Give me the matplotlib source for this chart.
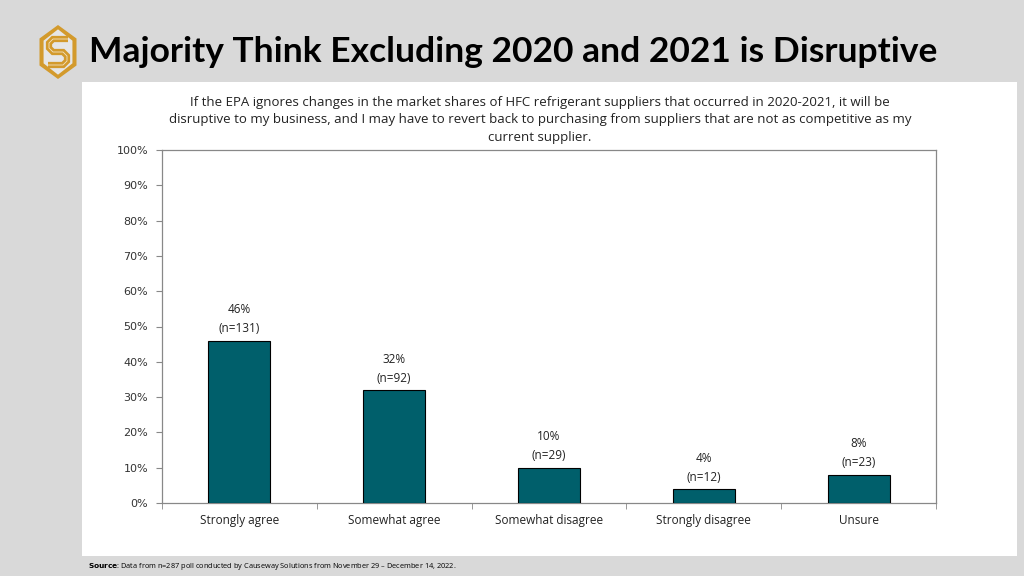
import matplotlib.pyplot as plt
from matplotlib.patches import Rectangle, Polygon
import numpy as np

categories = ['Strongly agree', 'Somewhat agree', 'Somewhat disagree', 'Strongly disagree', 'Unsure']
shares = [46, 32, 10, 4, 8]
counts = [131, 92, 29, 12, 23]
yticks = [0, 10, 20, 30, 40, 50, 60, 70, 80, 90, 100]

title = 'Majority Think Excluding 2020 and 2021 is Disruptive'
question = ('If the EPA ignores changes in the market shares of HFC refrigerant suppliers that occurred in 2020-2021, it will be\n'
            'disruptive to my business, and I may have to revert back to purchasing from suppliers that are not as competitive as my\n'
            'current supplier.')

W, H = 1024, 576
fig = plt.figure(figsize=(W / 100, H / 100), dpi=100)
fig.patch.set_facecolor('#d9d9d9')

# white panel behind the chart
bg = fig.add_axes([0, 0, 1, 1], zorder=-5)
bg.set_xlim(0, W)
bg.set_ylim(H, 0)
bg.axis('off')
bg.add_patch(Rectangle((82, 82), 1017 - 82, 556 - 82, facecolor='white', edgecolor='none'))

# logo (pixel coords)
gold = '#d39a2c'
cx, cy, hw, hh = 58, 52, 18.5, 27
outer = [(cx, cy - hh), (cx + hw, cy - hh / 2), (cx + hw, cy + hh / 2),
         (cx, cy + hh), (cx - hw, cy + hh / 2), (cx - hw, cy - hh / 2)]
inner = [(cx + (px - cx) * 0.78, cy + (py - cy) * 0.84) for px, py in outer]
bg.add_patch(Polygon(outer, closed=True, facecolor=gold, edgecolor='none'))
bg.add_patch(Polygon(inner, closed=True, facecolor='#e6e6e6', edgecolor='none'))
s_path = [(68, 39), (53, 39), (49, 43), (49, 48), (53, 52), (63, 52),
          (67, 56), (67, 61), (63, 65), (48, 65)]
sx, sy = zip(*s_path)
bg.plot(sx, sy, color=gold, lw=4.5, solid_joinstyle='miter', solid_capstyle='butt')
bg.plot(sx, sy, color='#f3e3c0', lw=0.6, solid_joinstyle='miter')

bg.text(89, 52, title, ha='left', va='center', fontsize=25.5,
        fontweight='bold', family='Lato', color='black')

bg.text(540, 120, question, ha='center', va='center', fontsize=9.5,
        family='Open Sans', linespacing=1.45, color='#222222')

bg.text(88, 566, r'$\bf{Source}$: Data from n=287 poll conducted by Causeway Solutions from November 29 – December 14, 2022.',
        ha='left', va='center', fontsize=5.3, family='Open Sans')

ax = fig.add_axes([162 / W, 1 - 503 / H, (936 - 162) / W, (503 - 150) / H], zorder=2)
ax.set_facecolor('none')
x = np.arange(len(categories))
ax.bar(x, shares, width=0.4, color='#005f6b', edgecolor='black', linewidth=0.8, zorder=3)
for xi, s, n in zip(x, shares, counts):
    ax.text(xi, s + 1.5, f'{s}%\n(n={n})', ha='center', va='bottom', fontsize=8.5,
            family='Open Sans', linespacing=1.6, color='#222222')

ax.set_xlim(-0.5, len(categories) - 0.5)
ax.set_ylim(0, 100)
ax.set_yticks(yticks)
ax.set_yticklabels([f'{t}%' for t in yticks], fontsize=8, family='DejaVu Sans', color='#333333')
ax.set_xticks(x)
ax.set_xticklabels(categories, fontsize=8.5, family='Open Sans', color='#222222')
ax.set_xticks(np.arange(-0.5, len(categories)), minor=True)
ax.tick_params(axis='x', which='major', length=0, pad=8)
ax.tick_params(axis='x', which='minor', length=4, color='#888888')
ax.tick_params(axis='y', length=4, color='#888888', pad=6)
for sp in ax.spines.values():
    sp.set_color('#888888')
    sp.set_linewidth(0.9)

fig.savefig('out.png', dpi=100, facecolor=fig.get_facecolor())
